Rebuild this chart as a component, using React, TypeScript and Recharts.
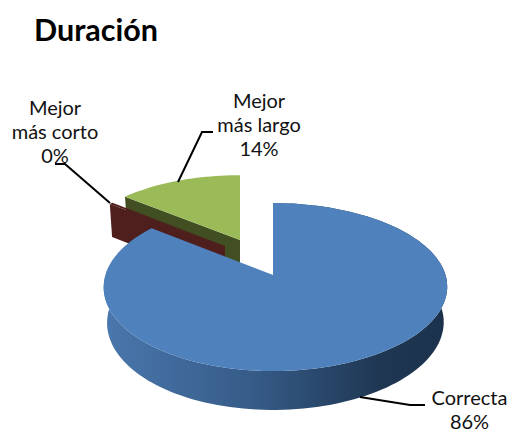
import { PieChart, Pie } from 'recharts';

// drawn counter-clockwise from 12 o'clock, so Correcta paints last (on top)
const categories = ['Mejor más largo', 'Mejor más corto', 'Correcta'];
const values = [14, 0.4, 85.6];
const percentLabels = ['14%', '0%', '86%'];
const labelLines = [['Mejor', 'más largo', '14%'], ['Mejor', 'más corto', '0%'], ['Correcta', '86%']];

// the red slice is so thin that only its dark cut face shows
const topColors = ['#9BBB59', '#4F1F1E', '#4F81BD'];
const cutColors = ['#414F22', '#4F1F1E', 'none'];

// explode offset and squeeze for each slice, in px from the pie centre
const explode = [
  { dx: -33, dy: -35, sx: 0.97, sy: 0.9 },
  { dx: -48, dy: -29, sx: 0.95, sy: 0.9 },
  { dx: 0, dy: 0, sx: 1, sy: 1 },
];

const labelPos = [
  { x: 259, y: 108, line: '213,132 202,132 178,182' },
  { x: 55, y: 115, line: '55,164 65,164 110,203' },
  { x: 469.5, y: 405, line: '360,397 410,405 425,405' },
];

const data = categories.map((name, i) => ({ name, value: values[i], percent: percentLabels[i] }));

const TILT = 0.484; // vertical squash of the disc
const PERSPECTIVE = 0.143;
const DEPTH = 35;
const SKEW = 2.5;

function project(cx: number, cy: number, r: number, deg: number, idx: number) {
  const a = (deg * Math.PI) / 180;
  const u = Math.cos(a);
  const v = -Math.sin(a);
  const w = 1 - PERSPECTIVE * v;
  const e = explode[idx];
  return {
    x: cx + e.dx + e.sx * ((r * u) / w + SKEW * u * u),
    y: cy + e.dy + (e.sy * r * TILT * v) / w,
    w,
  };
}

const lower = (p: { x: number; y: number; w: number }, ax: number, ay: number) => ({
  x: ax + (p.x - ax) * 0.98,
  y: ay + (p.y - ay) * 0.98 + DEPTH / p.w,
});

const toPath = (pts: { x: number; y: number }[]) =>
  'M' + pts.map((p) => `${p.x.toFixed(1)},${p.y.toFixed(1)}`).join('L') + 'Z';

function Slice3D(props: any) {
  const { cx, cy, outerRadius, startAngle, endAngle } = props;
  const idx = categories.indexOf(props.name ?? props.payload?.name);
  const e = explode[idx];
  const ax = cx + e.dx;
  const ay = cy + e.dy;

  const rim = [];
  const steps = Math.max(2, Math.ceil(Math.abs(endAngle - startAngle) / 2));
  for (let i = 0; i <= steps; i++) {
    rim.push(project(cx, cy, outerRadius, startAngle + ((endAngle - startAngle) * i) / steps, idx));
  }
  const rimLow = rim.map((p) => lower(p, ax, ay)).reverse();
  const apex = { x: ax, y: ay };
  const apexLow = { x: ax, y: ay + DEPTH };
  const last = rim[rim.length - 1];
  const gradId = `side-${idx}`;

  return (
    <g>
      <defs>
        <linearGradient id={gradId} gradientUnits="userSpaceOnUse" x1={104} x2={447} y1={0} y2={0}>
          <stop offset="0" stopColor="#4A77AD" />
          <stop offset="0.45" stopColor="#355A86" />
          <stop offset="0.8" stopColor="#1F3753" />
          <stop offset="1" stopColor="#1C324C" />
        </linearGradient>
      </defs>
      {idx === 2 ? (
        <path d={toPath([...rim, ...rimLow])} fill={`url(#${gradId})`} />
      ) : (
        <path d={toPath([apex, last, lower(last, ax, ay), apexLow])} fill={cutColors[idx]} />
      )}
      <path d={toPath([apex, ...rim])} fill={topColors[idx]} />
    </g>
  );
}

function SliceLabel(props: any) {
  const idx = props.index;
  const pos = labelPos[idx];
  return (
    <g>
      <polyline points={pos.line} fill="none" stroke="#000" strokeWidth={2} />
      <text x={pos.x} y={pos.y} textAnchor="middle" fontFamily="Lato" fontSize={20} fill="#111">
        {labelLines[idx].map((t, i) => (
          <tspan key={t} x={pos.x} dy={i === 0 ? 0 : 24}>
            {t}
          </tspan>
        ))}
      </text>
    </g>
  );
}

export default function App() {
  return (
    <div style={{ position: 'absolute', left: 0, top: 0, width: 511, height: 432, background: '#fff' }}>
      <div
        style={{
          position: 'absolute',
          left: 34,
          top: 11,
          fontFamily: 'Lato',
          fontWeight: 700,
          fontSize: 30.5,
          color: '#000',
        }}
      >
        Duración
      </div>
      <PieChart width={511} height={432} margin={{ top: 0, right: 0, bottom: 0, left: 0 }}>
        <Pie
          data={data}
          dataKey="value"
          nameKey="name"
          cx={273}
          cy={275}
          innerRadius={0}
          outerRadius={170}
          startAngle={90}
          endAngle={450}
          paddingAngle={0}
          stroke="none"
          shape={Slice3D}
          label={SliceLabel}
          labelLine={false}
          isAnimationActive={false}
        />
      </PieChart>
    </div>
  );
}
